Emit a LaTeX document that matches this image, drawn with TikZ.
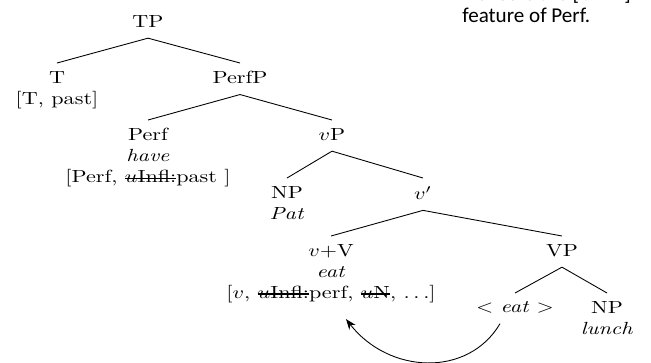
\documentclass[tikz,border=0pt]{standalone}
\usepackage{graphicx}
\usepackage{fontspec}
\usetikzlibrary{arrows.meta,calc}
\setmainfont{Latin Modern Roman}[FakeStretch=1.26]
\newfontfamily\notefont{Carlito}
\newsavebox\strikebox
\newcommand\struck[1]{\sbox\strikebox{#1}\rlap{\rule[0.5ex]{\wd\strikebox}{0.7pt}}\usebox\strikebox}
\newcommand\mv[1]{\scalebox{1.26}[1]{$#1$}}

\begin{document}
\begin{tikzpicture}[
    cat/.style={anchor=north,align=center,inner xsep=1pt,inner ysep=4.5pt},
    head/.style={cat,text depth=1.5pt},
    branch/.style={line width=0.5pt},
    note/.style={font=\notefont\fontsize{12}{14}\selectfont,inner sep=0pt,anchor=base west}]

  \useasboundingbox (0,0) rectangle (13.02,-7.24);

  % ---- Note (top right, cut off by the page) -----------------
  \node[note] (noteA) at (9.54,-0.01) {checks the [\,\textit{u}Infl\,]};
  \node[note] (noteB) at (9.24,-0.44) {feature of Perf.};

  % ---- Tree nodes --------------------------------------------
  \node[head] (TP)    at (2.96,-0.14) {TP};
  \node[cat]  (T)     at (1.14,-1.26) {T\\{[}T, past{]}};
  \node[head] (PerfP) at (4.80,-1.26) {PerfP};
  \node[cat]  (Perf)  at (2.96,-2.40)
    {Perf\\\textit{have}\\{[}Perf, \struck{\mv{u}Infl:}past {]}};
  \node[head] (vP)    at (6.64,-2.40) {\mv{v}P};
  \node[cat]  (NPa)   at (5.74,-3.56) {NP\\\textit{Pat}};
  \node[head] (vbar)  at (8.46,-3.56) {\mv{v'}};
  \node[cat]  (vV)    at (6.62,-4.72)
    {\mv{v}+V\\\textit{eat}\\{[}\mv{v}, \struck{\mv{u}Infl:}perf, \struck{\mv{u}N}, \mv{\ldots}{]}};
  \node[head] (VP)    at (11.24,-4.72) {VP};
  \node[cat]  (eat)   at (10.30,-5.86) {\mv{<} \textit{eat} \mv{>}};
  \node[cat]  (NPb)   at (12.14,-5.86) {NP\\\textit{lunch}};

  % ---- Branches ----------------------------------------------
  \draw[branch] (TP.south) -- (T.north);
  \draw[branch] (TP.south) -- (PerfP.north);
  \draw[branch] (PerfP.south) -- (Perf.north);
  \draw[branch] (PerfP.south) -- (vP.north);
  \draw[branch] (vP.south) -- (NPa.north);
  \draw[branch] (vP.south) -- (vbar.north);
  \draw[branch] (vbar.south) -- (vV.north);
  \draw[branch] (vbar.south) -- (VP.north);
  \draw[branch] (VP.south) -- (eat.north);
  \draw[branch] (VP.south) -- (NPb.north);

  % ---- Head movement -----------------------------------------
  \coordinate (movefrom) at ($(eat.south)+(-0.30,-0.05)$);
  \coordinate (moveto) at ($(vV.south)+(0.30,-0.16)$);
  \draw[branch,-{Stealth[length=6pt,width=4.5pt]}] (movefrom)
    .. controls +(-0.64,-1.08) and +(0.86,-1.10) .. (moveto);

\end{tikzpicture}
\end{document}
